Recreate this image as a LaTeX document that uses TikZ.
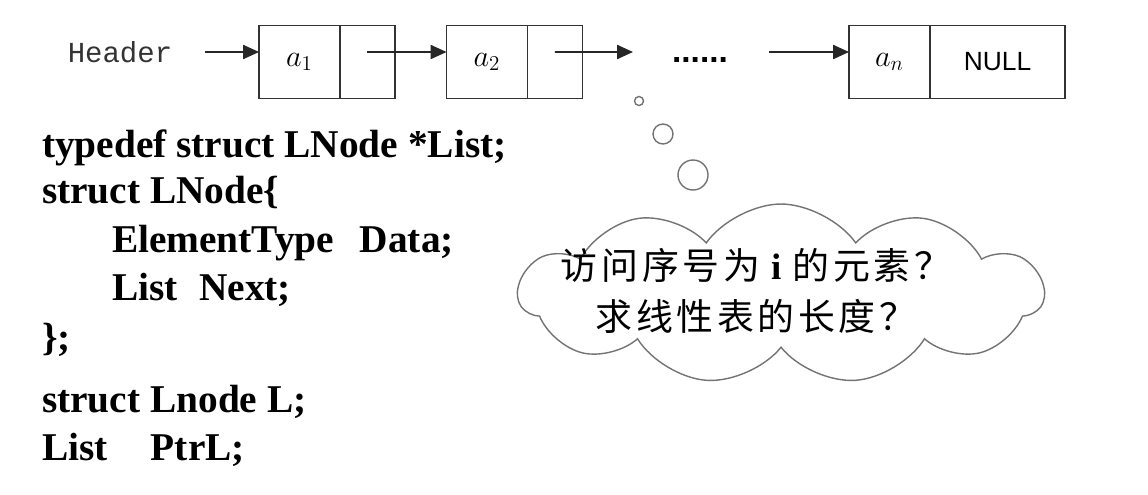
\documentclass[tikz,border=0pt]{standalone}
\usepackage{fontspec}
\setmainfont{Liberation Serif}
\setsansfont{Liberation Sans}
\setmonofont{Liberation Mono}
\newfontfamily\cjk[LetterSpace=10]{Noto Sans CJK SC}
\usetikzlibrary{arrows.meta}
\usetikzlibrary{positioning}
\usetikzlibrary{shapes.symbols}

\begin{document}
\begin{tikzpicture}[x=0.02cm,y=-0.02cm,inner sep=0pt,outer sep=0pt,
cell/.style={draw=black!80,line width=0.9pt,rectangle,minimum height=1.46cm},
datacell/.style={cell,minimum width=1.62cm,font=\fontsize{17}{17}\selectfont},
ptrcell/.style={cell,minimum width=1.1cm},
link/.style={-{Triangle[length=9pt,width=8pt]},line width=0.9pt,black!85},
code/.style={anchor=base west,font=\fontsize{22.4}{27}\selectfont\bfseries},
bubble/.style={draw=black!55,line width=0.8pt}]
\useasboundingbox (0,0) rectangle (1148,494);
\node[font=\ttfamily\fontsize{16.5}{16.5}\selectfont,text=black!80] (hdr) at (120,52) {Header};
\node[datacell] (d1) at (299.5,62) {$a_{1}$};
\node[ptrcell,right=0pt of d1] (p1) {};
\node[datacell] (d2) at (487,62) {$a_{2}$};
\node[ptrcell,right=0pt of d2] (p2) {};
\node[datacell] (dn) at (889.5,62) {$a_{n}$};
\node[cell,minimum width=2.7cm,right=0pt of dn,font=\sffamily\fontsize{15}{15}\selectfont] (nil) {NULL};
\coordinate (gapl) at (633,52);
\coordinate (gapr) at (769,52);
\node[font=\sffamily\bfseries\fontsize{19}{19}\selectfont] (dots) at (700,60) {......};
\draw[link] ([xshift=0.66cm]hdr.east) -- (hdr.east -| d1.west);
\draw[link] ([yshift=0.2cm]p1.center) -- ([yshift=0.2cm]d2.west);
\draw[link] ([yshift=0.2cm]p2.center) -- (gapl);
\draw[link] (gapr) -- ([yshift=0.2cm]dn.west);
\draw[bubble] (639,101) circle (0.09cm);
\draw[bubble] (663,134) circle (0.2cm);
\draw[bubble] (693,175) circle (0.3cm);
\node[cloud,draw=black!55,line width=0.8pt,cloud puffs=11,cloud puff arc=110,aspect=2.9,minimum width=10.5cm,minimum height=3.6cm] (thought) at (781,294) {};
\node[align=center,font=\cjk\fontsize{21}{29}\selectfont] (ask) at (756,291) {访问序号为\hspace{0.3em}{\rmfamily\bfseries i}\hspace{0.3em}的元素？\\求线性表的长度？};
\node[code] (l1) at (42,157) {typedef struct LNode *List;};
\node[code] (l2) at (42,203) {struct LNode\{};
\node[code] (l3) at (112,252) {ElementType\hspace{0.65em}Data;};
\node[code] (l4) at (112,300) {List\hspace{0.55em}Next;};
\node[code] (l5) at (42,350) {\};};
\node[code] (l6) at (42,412) {struct Lnode L;};
\node[code] (l7) at (42,460) {List\hspace{1.1em}PtrL;};
\end{tikzpicture}
\end{document}
